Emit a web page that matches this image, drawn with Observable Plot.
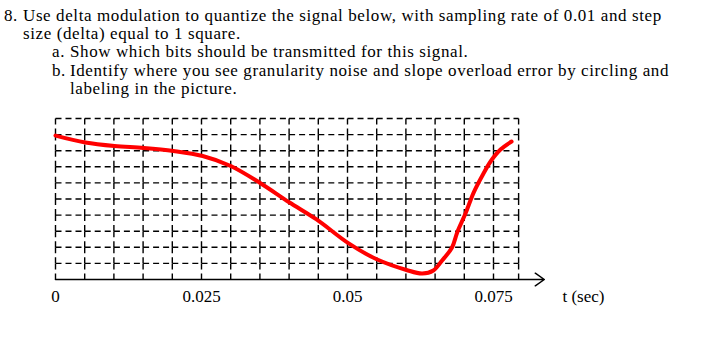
<!DOCTYPE html>
<html>
<head>
<meta charset="utf-8">
<script src="https://cdn.jsdelivr.net/npm/d3@7"></script>
<script src="https://cdn.jsdelivr.net/npm/@observablehq/plot@0.6"></script>
<style>
  html, body { margin: 0; padding: 0; background: #fff; }
  body { width: 702px; height: 347px; overflow: hidden; position: relative;
         font-family: "Liberation Serif", "Times New Roman", serif; color: #000; }
  .ln { position: absolute; font-size: 17px; white-space: nowrap; letter-spacing: 0.6px; }
  #chart { position: absolute; left: 0; top: 100px; }
</style>
</head>
<body>
<div class="ln" style="left:4px;top:6px">8.</div>
<div class="ln" style="left:23px;top:6px">Use delta modulation to quantize the signal below, with sampling rate of 0.01 and step</div>
<div class="ln" style="left:23px;top:24px">size (delta) equal to 1 square.</div>
<div class="ln" style="left:52px;top:42px">a.</div>
<div class="ln" style="left:70px;top:42px">Show which bits should be transmitted for this signal.</div>
<div class="ln" style="left:52px;top:61px">b.</div>
<div class="ln" style="left:70px;top:61px">Identify where you see granularity noise and slope overload error by circling and</div>
<div class="ln" style="left:70px;top:79px">labeling in the picture.</div>
<div id="chart"></div>
<script>
// Grid: one column per 0.005 s, the last column ends a little short of 0.08 s
const gridTimes = [0, 0.005, 0.01, 0.015, 0.02, 0.025, 0.03, 0.035, 0.04,
                   0.045, 0.05, 0.055, 0.06, 0.065, 0.07, 0.075, 0.0793];
// Grid rows, in steps (squares) above the time axis
const gridLevels = [0, 1, 2, 3, 4, 5, 6, 7, 8, 9, 10];

// Axis tick labels
const tickTimes = [0, 0.025, 0.05, 0.075];
const tickLabels = ["0", "0.025", "0.05", "0.075"];
const axisTitle = "t (sec)";

// The analog signal, in squares
const signalTime = [0, 0.0051, 0.0101, 0.0151, 0.0202, 0.0252, 0.0300, 0.0351,
                    0.0400, 0.0447, 0.0502, 0.0551, 0.0601, 0.0628, 0.0647, 0.0662,
                    0.0679, 0.0688, 0.0702, 0.0716, 0.0731, 0.0745, 0.0762, 0.0781];
const signalValue = [8.94, 8.51, 8.29, 8.17, 7.98, 7.67, 7.05, 5.98,
                     4.80, 3.73, 2.24, 1.24, 0.59, 0.37, 0.56, 1.18,
                     1.99, 2.94, 4.10, 5.40, 6.46, 7.33, 8.07, 8.57];

const signal = signalTime.map((t, i) => ({t, v: signalValue[i]}));

// Dashed grid drawn cell by cell so each dash run starts at a crossing
const topLevel = gridLevels[gridLevels.length - 1];
const hSegs = [];
for (const y of gridLevels.slice(1)) {
  for (let i = 0; i < gridTimes.length - 1; i++) {
    hSegs.push({x1: gridTimes[i], x2: gridTimes[i + 1], y});
  }
}
const vSegs = [];
for (const x of gridTimes) {
  for (let j = gridLevels.length - 1; j > 0; j--) {
    vSegs.push({x, y1: gridLevels[j], y2: gridLevels[j - 1]});
  }
}

const serif = "Liberation Serif, Times New Roman, serif";

const chart = Plot.plot({
  width: 702,
  height: 220,
  marginLeft: 55,
  marginRight: 702 - 522.2,
  marginTop: 18,
  marginBottom: 41,
  x: {domain: [0, 0.08], axis: null},
  y: {domain: [0, topLevel], axis: null},
  marks: [
    Plot.link(hSegs, {x1: "x1", x2: "x2", y1: "y", y2: "y",
      stroke: "#000", strokeWidth: 1.4, strokeDasharray: "6,4"}),
    Plot.link(vSegs, {x1: "x", x2: "x", y1: "y1", y2: "y2",
      stroke: "#000", strokeWidth: 1.4, strokeDasharray: "6,4"}),
    Plot.arrow([{x1: 0, x2: 0.0837, y: 0}], {x1: "x1", x2: "x2", y1: "y", y2: "y",
      stroke: "#000", strokeWidth: 1.5, headLength: 11, headAngle: 70}),
    Plot.line(signal, {x: "t", y: "v", stroke: "#ff0000", strokeWidth: 4,
      curve: "catmull-rom", strokeLinecap: "round"}),
    Plot.text(tickTimes, {x: d => d, y: 0, text: (d, i) => tickLabels[i],
      dy: 17, fontSize: 17, fontFamily: serif, fill: "#000"}),
    Plot.text([axisTitle], {x: 0.0868, y: 0, text: d => d, dy: 17,
      textAnchor: "start", fontSize: 17, fontFamily: serif, fill: "#000"})
  ]
});
document.getElementById("chart").appendChild(chart);
</script>
</body>
</html>
